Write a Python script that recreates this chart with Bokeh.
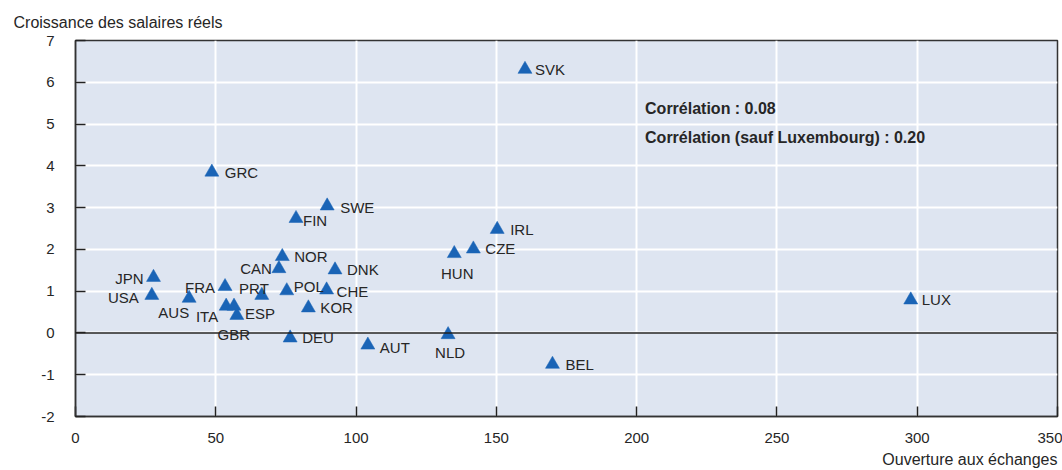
from bokeh.plotting import figure
from bokeh.models import ColumnDataSource, Label, Title, Span, FixedTicker, CustomJSTickFormatter
from bokeh.core.properties import value
from bokeh.embed import file_html
from bokeh.resources import INLINE

# ---- data ----
countries = ["SVK", "GRC", "SWE", "FIN", "IRL", "CZE", "HUN", "NOR", "CAN", "DNK",
             "JPN", "FRA", "POL", "CHE", "USA", "PRT", "AUS", "LUX", "ITA", "ESP",
             "GBR", "KOR", "NLD", "DEU", "AUT", "BEL"]
trade_openness = [160.2, 48.6, 89.7, 78.6, 150.3, 141.8, 135.0, 73.7, 72.5, 92.5,
                  27.8, 53.3, 75.3, 89.5, 27.2, 66.4, 40.5, 297.7, 53.7, 56.5,
                  57.5, 83.0, 132.8, 76.5, 104.2, 170.0]
real_wage_growth = [6.31, 3.85, 3.04, 2.74, 2.48, 2.01, 1.90, 1.83, 1.54, 1.51,
                    1.33, 1.11, 1.01, 1.03, 0.90, 0.90, 0.83, 0.79, 0.64, 0.64,
                    0.42, 0.60, -0.04, -0.12, -0.29, -0.75]
x_ticks = [0, 50, 100, 150, 200, 250, 300, 350]
y_ticks = [-2, -1, 0, 1, 2, 3, 4, 5, 6, 7]
y_title = "Croissance des salaires réels"
x_title = "Ouverture aux échanges"
corr_texts = ["Corrélation : 0.08", "Corrélation (sauf Luxembourg) : 0.20"]

# ---- label placement (alignment, dx px, dy px; dy positive = down) ----
placement = {
    "SVK": ("left", 10, 0), "GRC": ("left", 13, 0), "SWE": ("left", 13, 2),
    "FIN": ("left", 7, 2), "IRL": ("left", 13, 0), "CZE": ("left", 12, 0),
    "HUN": ("center", 3, 20), "NOR": ("left", 12, 0), "CAN": ("right", -7, 0),
    "DNK": ("left", 12, 0), "JPN": ("right", -10, 1), "FRA": ("right", -10, 1),
    "POL": ("left", 7, -4), "CHE": ("left", 10, 2), "USA": ("right", -13, 2),
    "PRT": ("right", 7, -7), "AUS": ("right", 0, 14), "LUX": ("left", 11, 0),
    "ITA": ("right", -8, 10), "ESP": ("left", 11, 7), "GBR": ("center", -3, 19),
    "KOR": ("left", 12, 0), "NLD": ("center", 2, 18), "DEU": ("left", 12, 0),
    "AUT": ("left", 12, 2), "BEL": ("left", 13, 0),
}

FONT = value("Liberation Sans")
TXT = "#262626"
BLUE = "#1a64b6"

p = figure(width=1062, height=470, x_range=(0, 350), y_range=(-2, 7),
           output_backend="svg", toolbar_location=None,
           min_border_left=75, min_border_right=5, min_border_top=40, min_border_bottom=52,
           background_fill_color="#dee5f1", border_fill_color="white",
           outline_line_color="#333333", outline_line_width=1.5)

# grid
p.xgrid.ticker = FixedTicker(ticks=x_ticks)
p.ygrid.ticker = FixedTicker(ticks=y_ticks)
for g in (p.xgrid, p.ygrid):
    g.grid_line_color = "white"
    g.grid_line_width = 2

# axes
p.xaxis.ticker = FixedTicker(ticks=x_ticks)
p.yaxis.ticker = FixedTicker(ticks=y_ticks)
fmt = CustomJSTickFormatter(code="return String(tick);")
for ax in (p.xaxis, p.yaxis):
    ax.formatter = fmt
    ax.major_tick_in = 10
    ax.major_tick_out = 0
    ax.minor_tick_in = 0
    ax.minor_tick_out = 0
    ax.major_tick_line_color = "#222222"
    ax.major_tick_line_width = 1.5
    ax.axis_line_color = "#333333"
    ax.axis_line_width = 1.5
    ax.major_label_text_font = "Liberation Sans"
    ax.major_label_text_font_size = "15px"
    ax.major_label_text_color = TXT
p.xaxis.major_label_standoff = 16
p.yaxis.major_label_standoff = 21

# zero line
p.add_layout(Span(location=0, dimension="width", line_color="#222222", line_width=1.5))

# axis titles
p.title = Title(text=y_title, align="left", offset=-62, vertical_align="top",
                text_font="Liberation Sans", text_font_size="16px",
                text_font_style="normal", text_color=TXT, standoff=16)
p.add_layout(Title(text=x_title, align="right", standoff=6,
                   text_font="Liberation Sans", text_font_size="16px",
                   text_font_style="normal", text_color=TXT), "below")

# markers
src = ColumnDataSource(dict(x=trade_openness, y=real_wage_growth, name=countries))
p.scatter("x", "y", source=src, marker="triangle", size=14,
          fill_color=BLUE, line_color=BLUE, line_width=0.5)

# country labels grouped by alignment
for align in ("left", "right", "center"):
    xs, ys, ns, dxs, dys = [], [], [], [], []
    for c, xv, yv in zip(countries, trade_openness, real_wage_growth):
        a, dx, dy = placement[c]
        if a == align:
            xs.append(xv); ys.append(yv); ns.append(c); dxs.append(dx); dys.append(dy)
    s = ColumnDataSource(dict(x=xs, y=ys, t=ns, dx=dxs, dy=dys))
    p.text("x", "y", text="t", x_offset="dx", y_offset="dy", source=s,
           text_align=align, text_baseline="middle",
           text_font=FONT, text_font_size="15px", text_color=TXT)

# correlation annotations
for txt, yv in zip(corr_texts, [5.37, 4.68]):
    p.add_layout(Label(x=203, y=yv, text=txt, text_baseline="middle",
                       text_font="Liberation Sans", text_font_size="16px",
                       text_font_style="bold", text_color=TXT))

open("out.html", "w").write(file_html(p, INLINE))
